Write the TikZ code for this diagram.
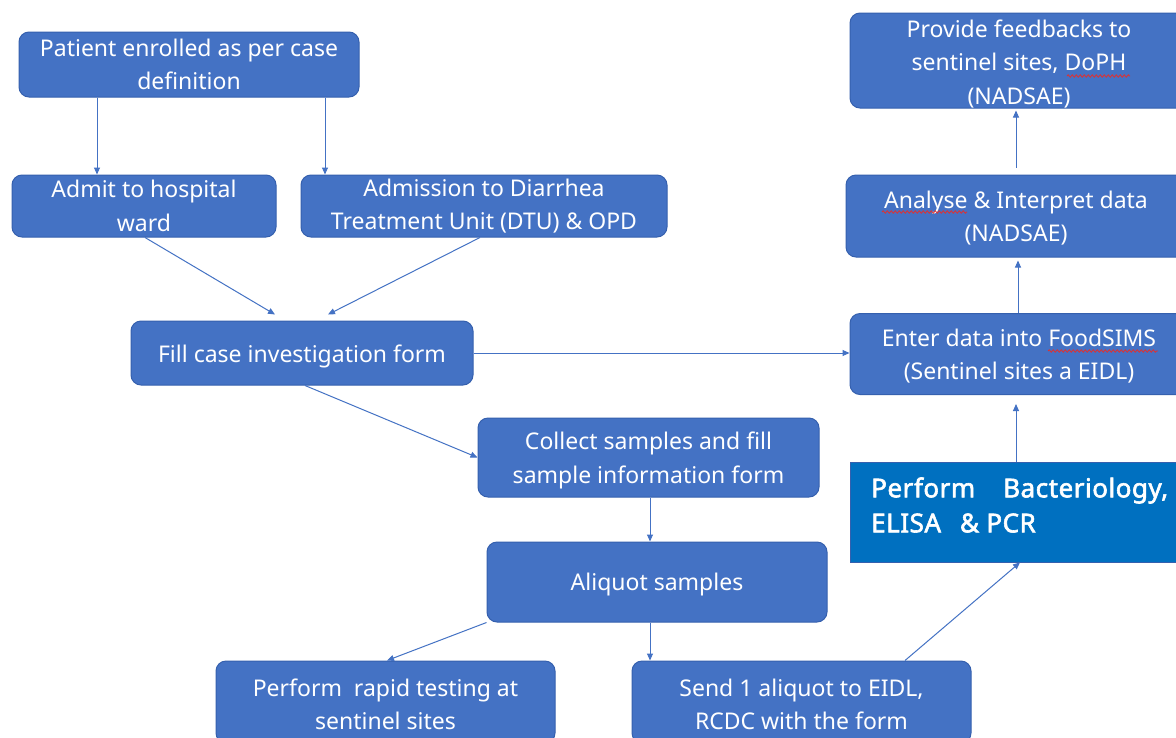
\documentclass[tikz,border=0pt]{standalone}
\usepackage{fontspec}
\setmainfont{Noto Sans}
\newfontfamily\bactfam{Noto Sans}[FakeBold=2.2,LetterSpace=2]
\usetikzlibrary{arrows.meta,decorations.pathmorphing}
\definecolor{boxfill}{HTML}{4472C4}
\definecolor{boxline}{HTML}{3560AE}
\definecolor{bactfill}{HTML}{0070C0}
\definecolor{arrowcol}{HTML}{4472C4}
\definecolor{spellred}{HTML}{E03030}
\newcommand\boxfont{\fontsize{23}{33.5}\selectfont}
\newcommand\bactfont{\bactfam\fontsize{26}{35}\selectfont}
\newcommand\lift[1]{\rule{0pt}{#1}}
\tikzset{
  flowbox/.style={draw=boxline, fill=boxfill, rounded corners=10pt, text=white,
    font=\boxfont, align=center, line width=1pt, inner sep=0pt},
  oneline/.style={text height=#1, text depth=6pt},
  arr/.style={-{Triangle[length=7pt,width=6pt]}, draw=arrowcol, line width=1pt},
  squiggle/.style={draw=spellred, line width=0.8pt, decorate,
    decoration={snake, segment length=4pt, amplitude=1.2pt}}
}
\begin{document}
\begin{tikzpicture}[x=1pt,y=-1pt]
\useasboundingbox (0,0) rectangle (1176,737);
\clip (0,0) rectangle (1176,737);
\fill[white] (0,0) rectangle (1176,737);
% left column
\node[flowbox, minimum width=340pt, minimum height=65pt] (P) at (189,64.5)
  {Patient enrolled as per case\\definition};
\node[flowbox, minimum width=264pt, minimum height=62pt] (A) at (144,206)
  {Admit to hospital\\ward};
\node[flowbox, minimum width=366pt, minimum height=62pt] (D) at (484,206)
  {Admission to Diarrhea\\Treatment Unit (DTU) \& OPD};
\node[flowbox, oneline=24pt, minimum width=342pt, minimum height=64pt] (F) at (302,353)
  {Fill case investigation form};
\node[flowbox, minimum width=341pt, minimum height=79pt] (C) at (648.5,457.5)
  {\lift{24pt}Collect samples and fill\\sample information form};
\node[flowbox, oneline=23pt, minimum width=340pt, minimum height=80pt] (Al) at (657,582)
  {Aliquot samples};
\node[flowbox, minimum width=339pt, minimum height=82pt] (R) at (385.5,702)
  {\lift{22pt}Perform\ \ rapid testing at\\sentinel sites};
\node[flowbox, minimum width=339pt, minimum height=82pt] (S) at (801.5,702)
  {\lift{22pt}Send 1 aliquot to EIDL,\\RCDC with the form};
% right column
\node[flowbox, minimum width=338pt, minimum height=95pt] (Pr) at (1019,60.5)
  {\lift{24pt}Provide feedbacks to\\sentinel sites, DoPH\\(NADSAE)};
\node[flowbox, minimum width=340pt, minimum height=82pt] (An) at (1016,216)
  {\lift{22pt}Analyse \& Interpret data\\(NADSAE)};
\node[flowbox, minimum width=338pt, minimum height=81pt] (E) at (1019,354)
  {\lift{22pt}Enter data into FoodSIMS\\(Sentinel sites a EIDL)};
\node[draw=boxline, fill=bactfill, line width=0.8pt, minimum width=340pt,
  minimum height=100pt, inner sep=0pt] (B) at (1020,512) {};
\node[anchor=west, text=white, font=\bactfont, align=left, inner sep=0pt] (Btxt)
  at (871,505) {Perform\hspace{28pt}Bacteriology,\\ELISA\hspace{19pt}\& PCR};
% spell-check underlines
\draw[squiggle] (1067,76) -- (1130,76);
\draw[squiggle] (882,212) -- (967,212);
\draw[squiggle] (1048,351) -- (1158,351);
% connectors
\draw[arr] ([xshift=-92pt]P.south) -- ([xshift=-47pt]A.north);
\draw[arr] ([xshift=136pt]P.south) -- ([xshift=-159pt]D.north);
\draw[arr] ([xshift=1pt]A.south) -- ([xshift=-27pt,yshift=6pt]F.north);
\draw[arr] ([xshift=-4pt]D.south) -- ([xshift=26pt,yshift=6pt]F.north);
\draw[arr] (F.east) -- (F.east -| E.west);
\draw[arr] ([xshift=3pt]F.south) -- (C.west);
\draw[arr] ([xshift=1.5pt]C.south) -- ([xshift=-7pt]Al.north);
\draw[arr] ([xshift=-7pt]Al.south) -- ([xshift=-151.5pt]S.north);
\draw[arr] (Al.south west) -- ([xshift=1.5pt]R.north);
\draw[arr] ([xshift=103.5pt]S.north) -- (B.south);
\draw[arr] ([xshift=-4pt]B.north) -- ([xshift=-3pt,yshift=-9pt]E.south);
\draw[arr] ([xshift=-1pt]E.north) -- ([xshift=2pt,yshift=-3pt]An.south);
\draw[arr] ([xshift=0pt,yshift=7pt]An.north) -- ([xshift=-3pt,yshift=-2pt]Pr.south);
\end{tikzpicture}
\end{document}
